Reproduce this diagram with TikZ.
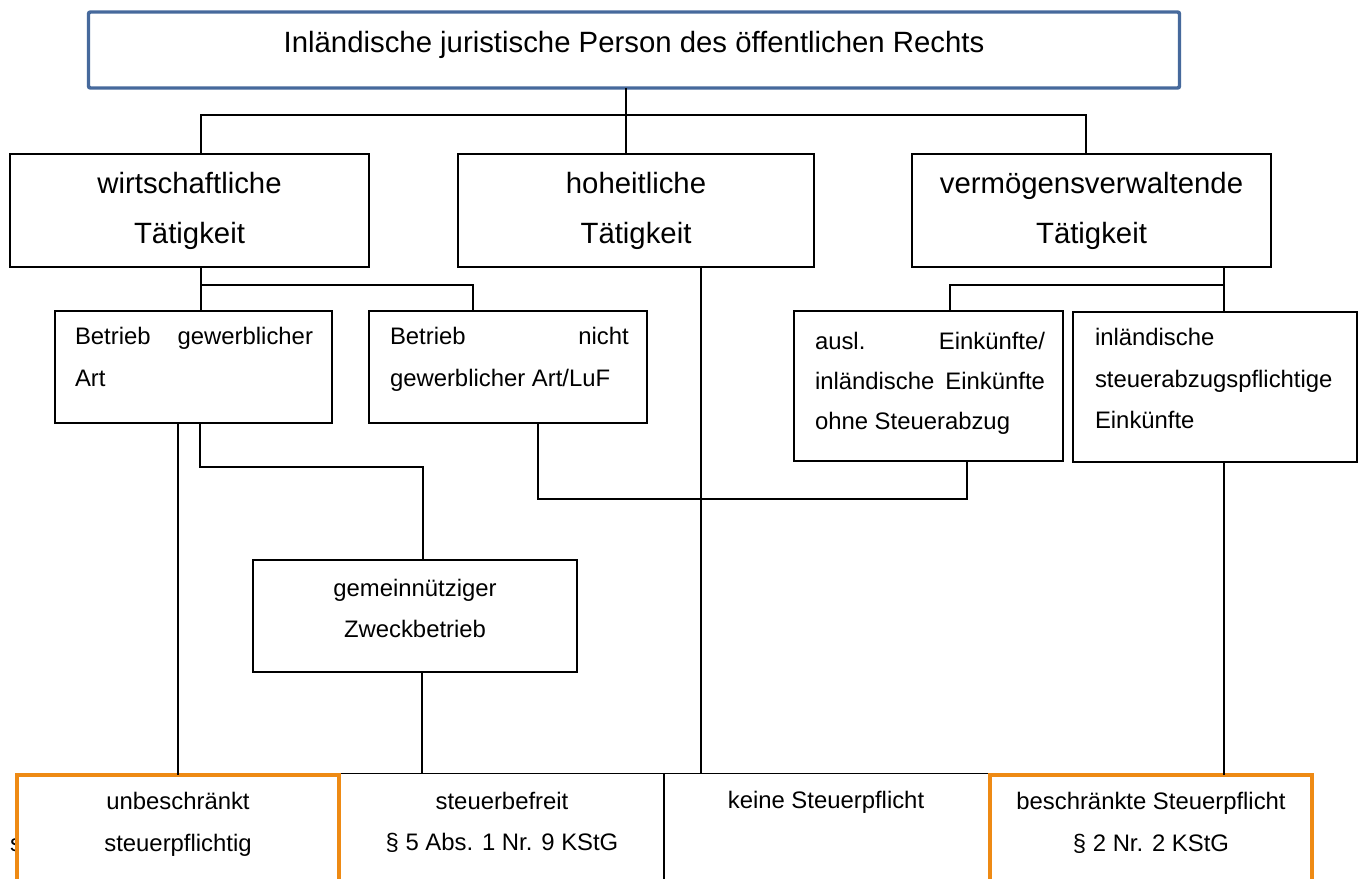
\documentclass[tikz,border=0pt]{standalone}
\usepackage{fontspec}
\setmainfont{Liberation Sans}
\definecolor{titleblue}{RGB}{70,105,156}
\definecolor{accorange}{RGB}{238,138,20}
\begin{document}
\begin{tikzpicture}[x=0.75pt,y=-0.75pt,
  box/.style={draw, line width=1pt, rectangle, inner sep=0pt, outer sep=0pt, fill=white},
  obox/.style={draw=accorange, line width=3pt, rectangle, inner sep=0pt, outer sep=0pt, fill=white},
  cell/.style={rectangle, inner sep=0pt, outer sep=0pt},
  conn/.style={line width=1.5pt},
  thinline/.style={line width=1pt},
  big/.style={font=\fontsize{22}{26}\selectfont, inner sep=0pt, outer sep=0pt},
  small/.style={font=\fontsize{17.9}{21}\selectfont, inner sep=0pt, outer sep=0pt},
]
\clip (0,0) rectangle (1363,878);
\fill[white] (0,0) rectangle (1363,878);

% boxes
\node[draw=titleblue, line width=2.6pt, rounded corners=1.5pt, rectangle, inner sep=0pt, outer sep=0pt, fill=white,
      minimum width=818.25pt, minimum height=57pt] (title) at (634,50) {};
\node[box, minimum width=269.25pt, minimum height=84.75pt] (wirt) at (189.5,210.5) {};
\node[box, minimum width=267pt, minimum height=84.75pt] (hoh) at (636,210.5) {};
\node[box, minimum width=269.25pt, minimum height=84.75pt] (verm) at (1091.5,210.5) {};
\node[box, minimum width=207.75pt, minimum height=84pt] (bga) at (193.5,367) {};
\node[box, minimum width=208.5pt, minimum height=84pt] (bnga) at (508,367) {};
\node[box, minimum width=201.75pt, minimum height=112.5pt] (ausl) at (928.5,386) {};
\node[box, minimum width=213pt, minimum height=112.5pt] (inl) at (1215,387) {};
\node[box, minimum width=243pt, minimum height=84pt] (gem) at (415,616) {};
\node[cell, minimum width=243pt, minimum height=99pt] (c2) at (502,839.5) {};
\node[cell, minimum width=243pt, minimum height=99pt] (c3) at (826,839.5) {};

% connectors
\coordinate (j0) at (626,115);
\coordinate (jL) at (201,115);
\coordinate (jR) at (1086,115);
\draw[conn] (title.south -| j0) -- (hoh.north -| j0);
\draw[conn] (jL |- wirt.north) -- (jL) -- (jR) -- (jR |- verm.north);
\coordinate (k1) at (201,285);
\coordinate (k2) at (473,285);
\draw[conn] (wirt.south -| k1) -- (bga.north -| k1);
\draw[conn] (k1) -- (k2) -- (k2 |- bnga.north);
\coordinate (m1) at (1224,285);
\coordinate (m2) at (950,285);
\draw[conn] (verm.south -| m1) -- (inl.north -| m1);
\draw[conn] (m1) -- (m2) -- (m2 |- ausl.north);
\coordinate (p1) at (200,467);
\coordinate (p2) at (423,467);
\draw[conn] (bga.south -| p1) -- (p1) -- (p2) -- (gem.north -| p2);
\coordinate (q1) at (538,499);
\coordinate (q2) at (967,499);
\draw[conn] (bnga.south -| q1) -- (q1) -- (q2) -- (ausl.south -| q2);
\coordinate (r1) at (701,600);
\draw[conn] (hoh.south -| r1) -- (c3.north -| r1);
\coordinate (s1) at (422,700);
\draw[conn] (gem.south -| s1) -- (c2.north -| s1);

% bottom table lines
\draw[thinline] (c2.south west) -- (c2.north west) -- (c3.north east);
\draw[thinline] (c3.north west) -- (c3.south west);

% partially hidden letter
\node[small, anchor=base west] (hid) at (10,851) {s};

% orange boxes
\node[obox, minimum width=241.5pt, minimum height=97.5pt] (o1) at (178,840) {};
\node[obox, minimum width=241.5pt, minimum height=97.5pt] (o2) at (1151,840) {};
\coordinate (n1) at (178,600);
\draw[conn] (bga.south -| n1) -- (o1.north -| n1);
\draw[conn] (inl.south -| m1) -- (o2.north -| m1);

% texts
\node[big, anchor=base] (tt) at (634,52) {Inländische juristische Person des öffentlichen Rechts};
\node[big, anchor=base] (wt1) at (189.5,193) {wirtschaftliche};
\node[big, anchor=base] (wt2) at (189.5,243) {Tätigkeit};
\node[big, anchor=base] (ht1) at (636,193) {hoheitliche};
\node[big, anchor=base] (ht2) at (636,243) {Tätigkeit};
\node[big, anchor=base] (vt1) at (1091.5,193) {vermögensverwaltende};
\node[big, anchor=base] (vt2) at (1091.5,243) {Tätigkeit};

\node[small, anchor=base west] (bg1) at (75,344) {\makebox[178.5pt][s]{Betrieb gewerblicher}};
\node[small, anchor=base west] (bg2) at (75,386) {Art};
\node[small, anchor=base west] (bn1) at (390,344) {\makebox[179pt][s]{Betrieb nicht}};
\node[small, anchor=base west] (bn2) at (390,386) {gewerblicher Art/LuF};
\node[small, anchor=base west] (au1) at (815,349) {\makebox[172.5pt][s]{ausl. Einkünfte/}};
\node[small, anchor=base west] (au2) at (815,389) {\makebox[172.5pt][s]{inländische Einkünfte}};
\node[small, anchor=base west] (au3) at (815,429) {ohne Steuerabzug};
\node[small, anchor=base west] (in1) at (1095,345) {inländische};
\node[small, anchor=base west] (in2) at (1095,387) {steuerabzugspflichtige};
\node[small, anchor=base west] (in3) at (1095,428) {Einkünfte};
\node[small, anchor=base] (ge1) at (415,596) {gemeinnütziger};
\node[small, anchor=base] (ge2) at (415,637) {Zweckbetrieb};

\node[small, anchor=base] (ot1) at (178,809) {unbeschränkt};
\node[small, anchor=base] (ot2) at (178,851) {steuerpflichtig};
\node[small, anchor=base] (ct1) at (502,809) {steuerbefreit};
\node[small, anchor=base] (ct2) at (502,850) {§ 5 Abs. 1 Nr. 9 KStG};
\node[small, anchor=base] (kt1) at (826,808) {keine Steuerpflicht};
\node[small, anchor=base] (bt1) at (1151,809) {beschränkte Steuerpflicht};
\node[small, anchor=base] (bt2) at (1151,851) {§ 2 Nr. 2 KStG};
\end{tikzpicture}
\end{document}
